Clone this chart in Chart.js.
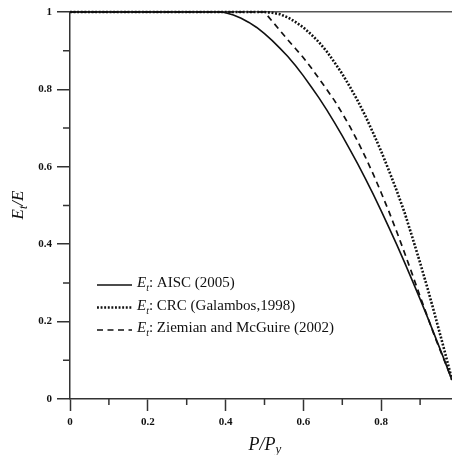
<!DOCTYPE html>
<html>
<head>
<meta charset="utf-8">
<script src="https://cdn.jsdelivr.net/npm/chart.js@4/dist/chart.umd.min.js"></script>
<style>
  html, body { margin: 0; padding: 0; background: #fff; }
  #wrap { width: 452px; height: 455px; position: relative; }
</style>
</head>
<body>
<div id="wrap"><canvas id="chartEt"></canvas></div>
<script>
// P/Py sample points shared by all three curves
const pRatio = [0, 0.39, 0.40, 0.42, 0.44, 0.46, 0.48, 0.50, 0.52, 0.54, 0.56, 0.58, 0.60, 0.62, 0.64, 0.66,
                0.68, 0.70, 0.72, 0.74, 0.76, 0.78, 0.80, 0.82, 0.84, 0.86, 0.88, 0.90, 0.92, 0.94, 0.96, 0.98, 0.982];

// Et/E for each model
const aisc    = [1, 1, 0.998, 0.992, 0.984, 0.973, 0.960, 0.944, 0.926, 0.906, 0.885, 0.861, 0.835, 0.807, 0.778, 0.747,
                 0.714, 0.680, 0.644, 0.607, 0.568, 0.528, 0.486, 0.443, 0.399, 0.353, 0.306, 0.258, 0.209, 0.158, 0.107, 0.054, 0.049];
const crc     = [1, 1, 1, 1, 1, 1, 1, 1, 0.998, 0.994, 0.986, 0.974, 0.960, 0.942, 0.922, 0.898,
                 0.870, 0.840, 0.806, 0.770, 0.730, 0.686, 0.640, 0.590, 0.538, 0.482, 0.418, 0.352, 0.283, 0.210, 0.135, 0.058, 0.050];
const ziemian = [1, 1, 1, 1, 1, 1, 1, 1, 0.976, 0.952, 0.928, 0.905, 0.882, 0.856, 0.828, 0.800,
                 0.771, 0.738, 0.703, 0.665, 0.624, 0.580, 0.533, 0.484, 0.432, 0.378, 0.322, 0.265, 0.210, 0.155, 0.105, 0.055, 0.049];

const legendNames = ['AISC (2005)', 'CRC (Galambos,1998)', 'Ziemian and McGuire (2002)'];
const xTicks = [0, 0.2, 0.4, 0.6, 0.8];
const xMinor = [0.1, 0.3, 0.5, 0.7, 0.9];
const yMinor = [0.1, 0.3, 0.5, 0.7, 0.9];

const ink = '#111';
const serif = "'Liberation Serif', 'Times New Roman', serif";
const pts = ys => pRatio.map((x, i) => ({ x: x, y: ys[i] }));

// minor tick marks, axis titles with subscripts, in-plot legend
const extras = {
  id: 'extras',
  afterDraw(chart) {
    const c = chart.ctx, xs = chart.scales.x, ys = chart.scales.y;
    c.save();
    c.strokeStyle = '#333';
    c.lineWidth = 1.5;
    c.beginPath();
    yMinor.forEach(v => { const py = ys.getPixelForValue(v); c.moveTo(xs.left - 7, py); c.lineTo(xs.left, py); });
    xMinor.forEach(v => { const px = xs.getPixelForValue(v); c.moveTo(px, ys.bottom); c.lineTo(px, ys.bottom + 6); });
    c.stroke();

    c.fillStyle = ink;
    c.textBaseline = 'alphabetic';

    // x title: P/Py
    c.font = 'italic 18px ' + serif;
    let w1 = c.measureText('P/P').width;
    c.font = 'italic 13px ' + serif;
    let w2 = c.measureText('y').width;
    let x0 = 265 - (w1 + w2) / 2;
    c.font = 'italic 18px ' + serif;
    c.fillText('P/P', x0, 450);
    c.font = 'italic 13px ' + serif;
    c.fillText('y', x0 + w1, 453);

    // y title: Et/E
    c.translate(23, 205);
    c.rotate(-Math.PI / 2);
    c.font = 'italic 17px ' + serif;
    const e1 = c.measureText('E').width;
    c.font = 'italic 12px ' + serif;
    const e2 = c.measureText('t').width;
    c.font = 'italic 17px ' + serif;
    const e3 = c.measureText('/E').width;
    let s = -(e1 + e2 + e3) / 2;
    c.fillText('E', s, 0);
    c.font = 'italic 12px ' + serif;
    c.fillText('t', s + e1, 4);
    c.font = 'italic 17px ' + serif;
    c.fillText('/E', s + e1 + e2, 0);
    c.setTransform(1, 0, 0, 1, 0, 0);

    // legend
    chart.data.datasets.forEach((ds, i) => {
      const base = 287 + i * 22.5;
      c.strokeStyle = ds.borderColor;
      c.lineWidth = ds.borderWidth;
      c.setLineDash(ds.borderDash || []);
      c.beginPath();
      c.moveTo(97, base - 2);
      c.lineTo(132, base - 2);
      c.stroke();
      c.setLineDash([]);
      let tx = 137;
      c.font = 'italic 15px ' + serif;
      c.fillText('E', tx, base);
      tx += c.measureText('E').width;
      c.font = 'italic 10px ' + serif;
      c.fillText('t', tx, base + 4);
      tx += c.measureText('t').width;
      c.font = '15px ' + serif;
      c.fillText(': ' + legendNames[i], tx, base);
    });
    c.restore();
  }
};

new Chart(document.getElementById('chartEt'), {
  type: 'line',
  data: {
    datasets: [
      { label: 'AISC (2005)', data: pts(aisc), borderColor: ink, borderWidth: 1.6, pointRadius: 0, clip: 4 },
      { label: 'CRC (Galambos,1998)', data: pts(crc), borderColor: ink, borderWidth: 2.6, borderDash: [1.9, 1.7], pointRadius: 0, clip: 4 },
      { label: 'Ziemian and McGuire (2002)', data: pts(ziemian), borderColor: ink, borderWidth: 1.7, borderDash: [6, 4.5], pointRadius: 0, clip: 4 }
    ]
  },
  options: {
    responsive: true, maintainAspectRatio: false, animation: false,
    layout: { padding: { top: 12, right: 0, left: 0, bottom: 0 } },
    plugins: { legend: { display: false }, tooltip: { enabled: false } },
    scales: {
      x: {
        type: 'linear', min: 0, max: 0.982,
        afterBuildTicks: sc => { sc.ticks = xTicks.map(v => ({ value: v })); },
        afterFit: sc => { sc.height = 56; },
        ticks: { color: ink, padding: 5, font: { family: serif, size: 11, weight: 'bold' }, callback: v => String(Math.round(v * 10) / 10) },
        grid: { drawOnChartArea: false, tickLength: 12, tickColor: '#333', tickWidth: 1.5 },
        border: { color: '#333', width: 1.5 }
      },
      y: {
        type: 'linear', min: 0, max: 1,
        ticks: { stepSize: 0.2, color: ink, padding: 5, font: { family: serif, size: 11, weight: 'bold' }, callback: v => String(Math.round(v * 10) / 10) },
        afterFit: sc => { sc.width = 70; },
        grid: {
          color: ctx => (ctx.tick && ctx.tick.value === 1) ? '#555' : 'rgba(0,0,0,0)',
          lineWidth: 1.5, tickLength: 13, tickColor: '#333', tickWidth: 1.5
        },
        border: { color: '#333', width: 1.5 }
      }
    }
  },
  plugins: [extras]
});
</script>
</body>
</html>
